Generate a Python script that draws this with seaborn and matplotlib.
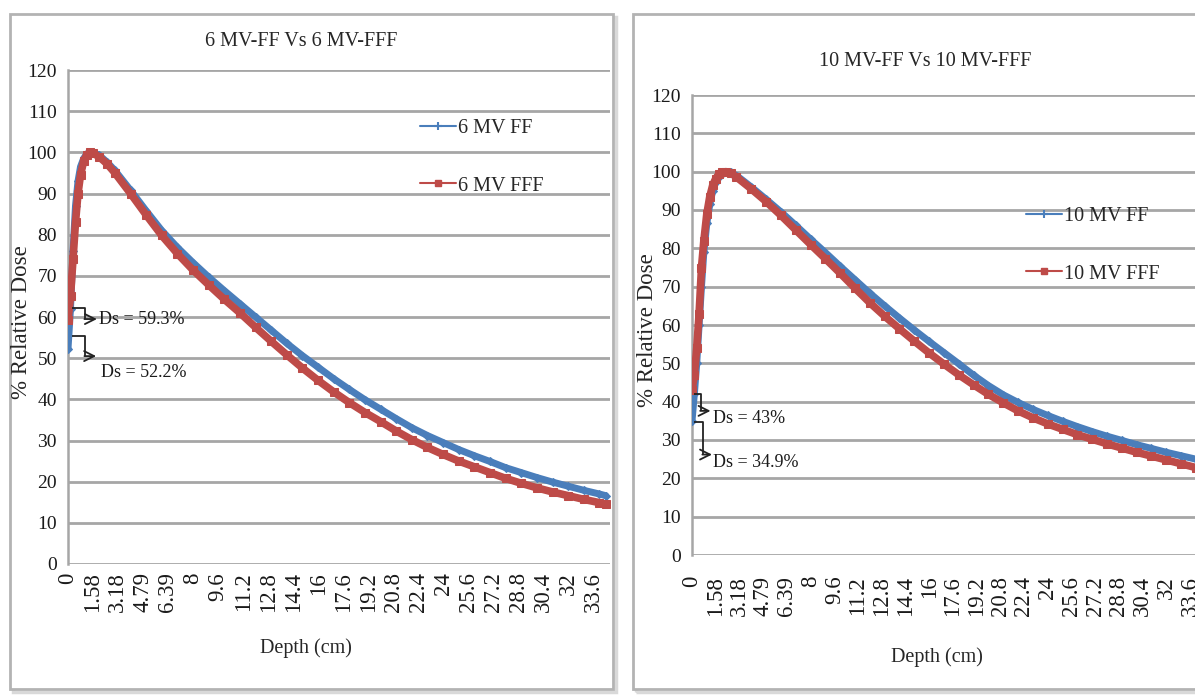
import numpy as np
import pandas as pd
import matplotlib
matplotlib.use("Agg")
import matplotlib.pyplot as plt
from matplotlib.patches import Rectangle
from matplotlib.lines import Line2D
import seaborn as sns

sns.set_theme(style="white")
plt.rcParams['font.family'] = ['Liberation Serif', 'DejaVu Serif']

# ---------------- data ----------------
depth_6 = [0, 0.16, 0.32, 0.48, 0.64, 0.8, 1.0, 1.2, 1.4, 1.6, 2.0, 2.5, 3, 4, 5, 6, 7, 8, 9, 10,
           11, 12, 13, 14, 15, 16, 17, 18, 19, 20, 21, 22, 23, 24, 25, 26, 27, 28, 29, 30,
           31, 32, 33, 34, 34.4]
ff_6 = [52.2, 62, 76, 87, 93, 96.5, 98.5, 99.6, 100, 99.9, 99.3, 97.6, 95.6, 90.8, 85.8, 81.0, 76.9, 73.2, 69.7, 66.4,
        63.2, 60.0, 56.8, 53.6, 50.6, 47.8, 45.0, 42.4, 39.9, 37.6, 35.3, 33.1, 31.2, 29.5, 27.8, 26.3, 24.9, 23.4, 22.2, 21.0,
        19.9, 18.9, 17.9, 17.0, 16.6]
fff_6 = [59.3, 65, 74, 83, 90, 94.5, 97.8, 99.4, 100, 99.8, 98.9, 97.2, 95.0, 90.0, 84.8, 79.8, 75.4, 71.4, 67.8, 64.3,
         61.0, 57.5, 54.1, 50.8, 47.6, 44.6, 41.8, 39.2, 36.8, 34.6, 32.3, 30.2, 28.3, 26.6, 25.0, 23.6, 22.2, 20.8, 19.6, 18.5,
         17.5, 16.6, 15.7, 14.9, 14.5]

depth_10 = [0, 0.16, 0.32, 0.48, 0.64, 0.8, 1.0, 1.2, 1.4, 1.6, 1.8, 2.0, 2.3, 2.6, 3, 4, 5, 6, 7, 8, 9, 10,
            11, 12, 13, 14, 15, 16, 17, 18, 19, 20, 21, 22, 23, 24, 25, 26, 27, 28, 29, 30,
            31, 32, 33, 34, 34.7]
ff_10 = [34.9, 42, 50, 60, 70, 79, 86.5, 91.5, 95, 97.3, 98.7, 99.5, 100, 99.8, 99.0, 96.0, 92.8, 89.5, 86.0, 82.4, 78.9, 75.3,
         71.8, 68.3, 65.0, 61.8, 58.7, 55.7, 52.8, 49.9, 46.9, 44.2, 41.8, 39.8, 38.0, 36.4, 34.9, 33.5, 32.2, 31.0, 29.9, 28.8,
         27.8, 26.8, 25.9, 25.0, 24.4]
fff_10 = [43.0, 47, 54, 63, 75, 82, 89, 93.5, 96.5, 98.2, 99.3, 99.8, 100, 99.7, 98.6, 95.5, 92.2, 88.6, 84.8, 81.0, 77.3, 73.5,
          69.6, 65.8, 62.3, 59.0, 55.8, 52.7, 49.8, 47.0, 44.4, 41.9, 39.7, 37.6, 35.8, 34.2, 32.8, 31.4, 30.2, 29.0, 27.9, 26.8,
          25.8, 24.8, 23.8, 22.8, 22.2]

xtick_vals = [0, 1.58, 3.18, 4.79, 6.39, 8, 9.6, 11.2, 12.8, 14.4, 16, 17.6, 19.2, 20.8,
              22.4, 24, 25.6, 27.2, 28.8, 30.4, 32, 33.6]
xtick_labels = ["0", "1.58", "3.18", "4.79", "6.39", "8", "9.6", "11.2", "12.8", "14.4", "16",
                "17.6", "19.2", "20.8", "22.4", "24", "25.6", "27.2", "28.8", "30.4", "32", "33.6"]

titles = ["6 MV-FF Vs 6 MV-FFF", "10 MV-FF Vs 10 MV-FFF"]
legend_6 = ["6 MV FF", "6 MV FFF"]
legend_10 = ["10 MV FF", "10 MV FFF"]
ds_6 = ["Ds = 59.3%", "Ds = 52.2%"]
ds_10 = ["Ds = 43%", "Ds = 34.9%"]

BLUE = "#4a7ebb"
RED = "#be4b48"
GRID = "#a6a6a6"

W, H = 1195, 695
fig = plt.figure(figsize=(W / 100, H / 100), dpi=100)
fig.patch.set_facecolor("white")

def fx(px):
    return px / W

def fy(py):
    return 1 - py / H

# panel frames (drawn beneath the axes)
for (x0, y0, x1, y1) in [(10, 14, 613, 689), (633, 14, 1215, 689)]:
    fig.add_artist(Rectangle((fx(x0 + 3), fy(y1 + 3)), fx(x1 - x0), (y1 - y0) / H,
                             transform=fig.transFigure, facecolor="none",
                             edgecolor="#d9d9d9", lw=2.5, zorder=-3))
    fig.add_artist(Rectangle((fx(x0), fy(y1)), fx(x1 - x0), (y1 - y0) / H,
                             transform=fig.transFigure, facecolor="white",
                             edgecolor="#b3b3b3", lw=2.0, zorder=-2))

axL = fig.add_axes([fx(68), fy(564), fx(610 - 68), (564 - 70) / H])
axR = fig.add_axes([fx(692), fy(555), fx(1206 - 692), (555 - 95) / H])
for ax in (axL, axR):
    ax.set_zorder(2)

def style_axes(ax, xmax, xpad):
    ax.set_xlim(0, xmax)
    ax.set_ylim(0, 120)
    ax.set_yticks(np.arange(0, 121, 10))
    ax.set_xticks(xtick_vals)
    ax.set_xticklabels(xtick_labels, rotation=90, fontsize=16.5)
    ax.tick_params(axis="y", labelsize=14, length=0, pad=8, colors="#1a1a1a")
    ax.tick_params(axis="x", length=0, pad=xpad, colors="#1a1a1a")
    ax.yaxis.grid(True, color=GRID, lw=2.0)
    ax.xaxis.grid(False)
    ax.set_axisbelow(True)
    for s in ["top", "right", "bottom"]:
        ax.spines[s].set_visible(False)
    ax.spines["left"].set_color(GRID)
    ax.spines["left"].set_linewidth(1.8)
    ax.set_facecolor("none")
    ax.set_xlabel("")
    ax.set_ylabel("")

df6 = pd.DataFrame({"depth": depth_6, "FF": ff_6, "FFF": fff_6})
df10 = pd.DataFrame({"depth": depth_10, "FF": ff_10, "FFF": fff_10})

for ax, df in [(axL, df6), (axR, df10)]:
    sns.lineplot(data=df, x="depth", y="FF", ax=ax, color=BLUE, lw=5.0, marker="D",
                 markersize=4, markeredgecolor=BLUE, sort=False, zorder=3)
    sns.lineplot(data=df, x="depth", y="FFF", ax=ax, color=RED, lw=5.5, marker="s",
                 markersize=5.5, markeredgecolor=RED, sort=False, zorder=4)

style_axes(axL, 542 / 15.63, 6)
style_axes(axR, (1206 - 692) / 14.82, 15)

# legends
def legend(ax, labels, anchor):
    h = [Line2D([], [], color=BLUE, lw=1.5, marker="+", markersize=6, markeredgewidth=1.5),
         Line2D([], [], color=RED, lw=1.5, marker="s", markersize=5)]
    ax.legend(h, labels, loc="upper left", bbox_to_anchor=anchor, bbox_transform=fig.transFigure,
              frameon=False, fontsize=14.5, handlelength=1.8, handletextpad=0.1,
              labelspacing=1.9, borderpad=0)

legend(axL, legend_6, (fx(410), fy(109)))
legend(axR, legend_10, (fx(1016), fy(197)))

# titles and axis labels
fig.text(fx(301), fy(42), titles[0], ha="center", va="center", fontsize=14.5)
fig.text(fx(925), fy(62), titles[1], ha="center", va="center", fontsize=14.5)
fig.text(fx(22), fy(322), "% Relative Dose", rotation=90, ha="center", va="center", fontsize=16.5)
fig.text(fx(648), fy(330), "% Relative Dose", rotation=90, ha="center", va="center", fontsize=16.5)
fig.text(fx(306), fy(648), "Depth (cm)", ha="center", va="center", fontsize=14.5)
fig.text(fx(937), fy(657), "Depth (cm)", ha="center", va="center", fontsize=14.5)

# Ds annotations (bracket arrows)
def bracket(ax, x0, x1, x2, y0, y1, text, tx, ty):
    ax.plot([x0, x1, x1], [y0, y0, y1], color="#222222", lw=1.3, zorder=5,
            solid_capstyle="butt")
    ax.annotate("", xy=(x2, y1), xytext=(x1 - 0.05, y1),
                arrowprops=dict(arrowstyle="->", lw=1.3, color="#222222",
                                shrinkA=0, shrinkB=0, mutation_scale=18), zorder=5)
    ax.text(tx, ty, text, fontsize=13, va="center", ha="left", color="#1a1a1a", zorder=5)

bracket(axL, 0.25, 1.1, 1.85, 62.3, 59.5, ds_6[0], 2.0, 59.5)
bracket(axL, 0.25, 1.1, 1.8, 55.5, 50.5, ds_6[1], 2.1, 46.6)
bracket(axR, 0.15, 0.6, 1.25, 42.0, 37.6, ds_10[0], 1.4, 35.6)
bracket(axR, 0.15, 0.75, 1.35, 34.8, 26.2, ds_10[1], 1.45, 24.2)

fig.savefig("out.png", dpi=100)
